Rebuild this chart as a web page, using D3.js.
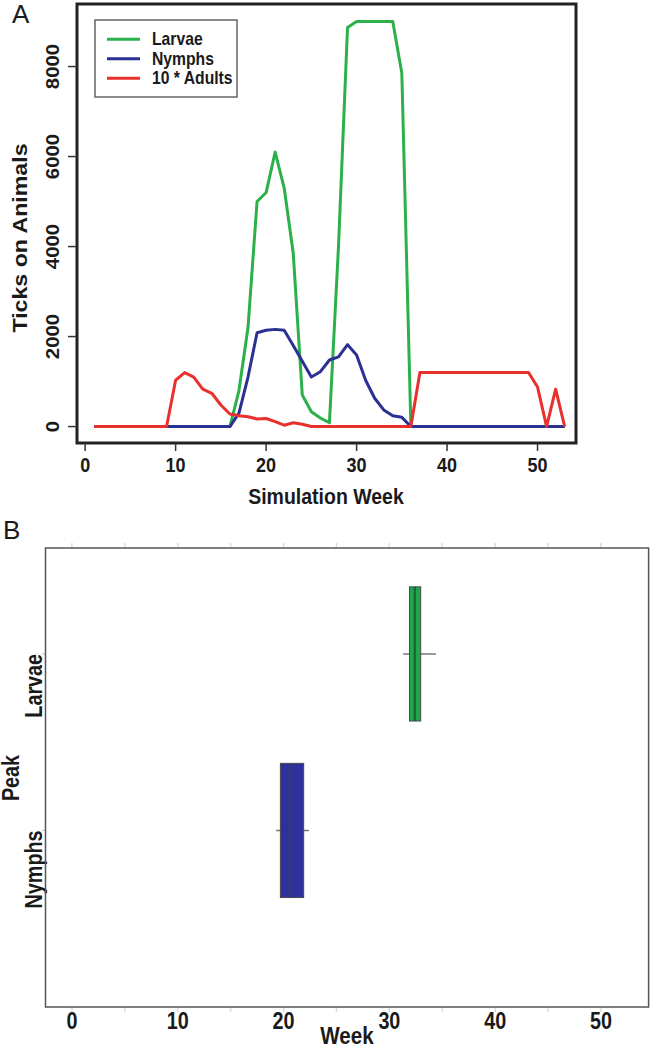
<!DOCTYPE html>
<html><head><meta charset="utf-8">
<script src="https://cdn.jsdelivr.net/npm/d3@7"></script>
<style>body{margin:0;background:#fff}svg{display:block}</style>
</head><body><div id="chart"></div>
<script>
// ---------- DATA ----------
const weeks = [1,2,3,4,5,6,7,8,9,10,11,12,13,14,15,16,17,18,19,20,21,22,23,24,25,26,27,28,29,30,31,32,33,34,35,36,37,38,39,40,41,42,43,44,45,46,47,48,49,50,51,52,53];
const larvae = [0,0,0,0,0,0,0,0,0,0,0,0,0,0,0,0,800,2200,5000,5200,6100,5300,3850,700,330,190,85,4000,8870,9000,9000,9000,9000,9000,7850,0,0,0,0,0,0,0,0,0,0,0,0,0,0,0,0,0,0];
const nymphs = [0,0,0,0,0,0,0,0,0,0,0,0,0,0,0,0,300,1100,2085,2140,2160,2140,1800,1450,1100,1220,1480,1550,1820,1590,1030,630,370,240,205,0,0,0,0,0,0,0,0,0,0,0,0,0,0,0,0,0,0];
const adults10 = [0,0,0,0,0,0,0,0,0,1030,1200,1100,830,740,480,280,240,220,170,180,110,30,85,50,0,0,0,0,0,0,0,0,0,0,0,0,1200,1200,1200,1200,1200,1200,1200,1200,1200,1200,1200,1200,1200,880,0,830,0];
const seriesNames = ["Larvae","Nymphs","10 * Adults"];
const seriesColors = ["#2bb04a","#2b3192","#e8302c"];
const xTicksA = [0,10,20,30,40,50];
const yTicksA = [0,2000,4000,6000,8000];

const peakCats = ["Nymphs","Larvae"];
const peakMin = [19.3, 31.3];
const peakQ1 = [19.7, 31.9];
const peakMed = [20.6, 32.4];
const peakQ3 = [21.9, 32.96];
const peakMax = [22.4, 34.4];
const peakFill = ["#2e309e","#1fa54b"];
const peakMedColor = ["#3b3b6e","#1d5e30"];
const xTicksB = [0,10,20,30,40,50];
const xMinorB = [0,5,10,15,20,25,30,35,40,45,50];

// ---------- SETUP ----------
const W = 652, H = 1050, S = 1.13;
const FONT = "'Liberation Sans', Arial, Helvetica, sans-serif";
const svg = d3.select("#chart").append("svg").attr("width", W).attr("height", H)
  .style("font-family", FONT);

// o.stretch: vertical screen stretch (panel A); o.cond: condense along baseline (panel B)
function txt(x, y, str, o) {
  o = o || {};
  const sy = o.stretch === undefined ? 1 : o.stretch;
  const c = o.cond || 1;
  const t = svg.append("text")
    .attr("transform", `translate(${x},${y}) scale(1,${sy})` + (o.rot ? " rotate(-90)" : "") + ` scale(${c},1)`)
    .attr("text-anchor", o.anchor || "middle")
    .attr("font-size", o.size || 18)
    .attr("font-weight", o.weight || "bold")
    .attr("fill", o.fill || "#1a1a1a")
    .text(str);
  return t;
}

// ---------- PANEL A ----------
const xA = d3.scaleLinear().domain([-0.9, 54.25]).range([77, 576]);
const yA = d3.scaleLinear().domain([-365, 9390]).range([443, 4]);

txt(12, 23, "A", {anchor:"start", size:26, weight:"normal"});

// series lines
const seriesData = [larvae, nymphs, adults10];
const line = d3.line().x((d,i) => xA(weeks[i])).y(d => yA(d));
seriesData.forEach((s, k) => {
  svg.append("path").datum(s).attr("d", line)
    .attr("fill", "none").attr("stroke", seriesColors[k])
    .attr("stroke-width", 3).attr("stroke-linejoin", "round");
});

// frame
svg.append("rect").attr("x", xA.range()[0]).attr("y", yA.range()[1])
  .attr("width", xA.range()[1]-xA.range()[0]).attr("height", yA.range()[0]-yA.range()[1])
  .attr("fill", "none").attr("stroke", "#222").attr("stroke-width", 3);

// x ticks
xTicksA.forEach(t => {
  svg.append("line").attr("x1", xA(t)).attr("x2", xA(t)).attr("y1", 443).attr("y2", 451)
    .attr("stroke", "#333").attr("stroke-width", 1.5);
  txt(xA(t), 472, t, {size:18, stretch:S});
});
// y ticks
yTicksA.forEach(t => {
  svg.append("line").attr("x1", 68).attr("x2", 77).attr("y1", yA(t)).attr("y2", yA(t))
    .attr("stroke", "#333").attr("stroke-width", 1.5);
  txt(59, yA(t), t, {size:18, rot:true, stretch:S});
});
txt(326, 504, "Simulation Week", {size:19.5, stretch:S});
txt(27, 238, "Ticks on Animals", {size:20.5, rot:true, stretch:S});

// legend
svg.append("rect").attr("x", 95).attr("y", 20).attr("width", 142).attr("height", 77)
  .attr("fill", "#fff").attr("stroke", "#666").attr("stroke-width", 1.5);
seriesNames.forEach((n, k) => {
  const yy = 39.3 + k*19.5;
  svg.append("line").attr("x1", 107).attr("x2", 140).attr("y1", yy).attr("y2", yy)
    .attr("stroke", seriesColors[k]).attr("stroke-width", 3);
  txt(152, yy + 6, n, {anchor:"start", size:15.7, stretch:S});
});

// ---------- PANEL B ----------
const xB = d3.scaleLinear().domain([-2.5, 54.5]).range([45.5, 648.6]);
const yB = d3.scaleLinear().domain([0, 2.6]).range([1007, 548]);
const half = 0.38;
const BS = 23, BC = 0.86;

txt(3, 539, "B", {anchor:"start", size:26, weight:"normal"});

// faint ticks
xMinorB.forEach(t => {
  svg.append("line").attr("x1", xB(t)).attr("x2", xB(t)).attr("y1", 548).attr("y2", 543)
    .attr("stroke", "#ddd").attr("stroke-width", 1.5);
  svg.append("line").attr("x1", xB(t)).attr("x2", xB(t)).attr("y1", 1007).attr("y2", 1012)
    .attr("stroke", "#ddd").attr("stroke-width", 1.5);
});

peakCats.forEach((c, i) => {
  const yc = yB(i + 1);
  svg.append("line").attr("x1", xB(peakMin[i])).attr("x2", xB(peakMax[i]))
    .attr("y1", yc).attr("y2", yc).attr("stroke", "#777").attr("stroke-width", 1.5);
  svg.append("rect").attr("x", xB(peakQ1[i])).attr("y", yB(i + 1 + half))
    .attr("width", xB(peakQ3[i]) - xB(peakQ1[i]))
    .attr("height", yB(i + 1 - half) - yB(i + 1 + half))
    .attr("fill", peakFill[i]).attr("stroke", "#4a4a4a").attr("stroke-width", 1);
  svg.append("line").attr("x1", xB(peakMed[i])).attr("x2", xB(peakMed[i]))
    .attr("y1", yB(i + 1 + half)).attr("y2", yB(i + 1 - half))
    .attr("stroke", peakMedColor[i]).attr("stroke-width", 2);
  svg.append("line").attr("x1", 45.5).attr("x2", 42).attr("y1", yc).attr("y2", yc)
    .attr("stroke", "#ccc").attr("stroke-width", 1.2);
  txt(42, yc, c, {anchor:"end", size:BS, rot:true, cond:BC});
});

svg.append("rect").attr("x", xB.range()[0]).attr("y", yB.range()[1])
  .attr("width", xB.range()[1]-xB.range()[0]).attr("height", yB.range()[0]-yB.range()[1])
  .attr("fill", "none").attr("stroke", "#555").attr("stroke-width", 1.5);

xTicksB.forEach(t => txt(xB(t), 1029, t, {size:BS, cond:BC}));
txt(347, 1044, "Week", {size:24, cond:BC});
txt(19, 778, "Peak", {size:BS, rot:true, cond:BC});
</script></body></html>
